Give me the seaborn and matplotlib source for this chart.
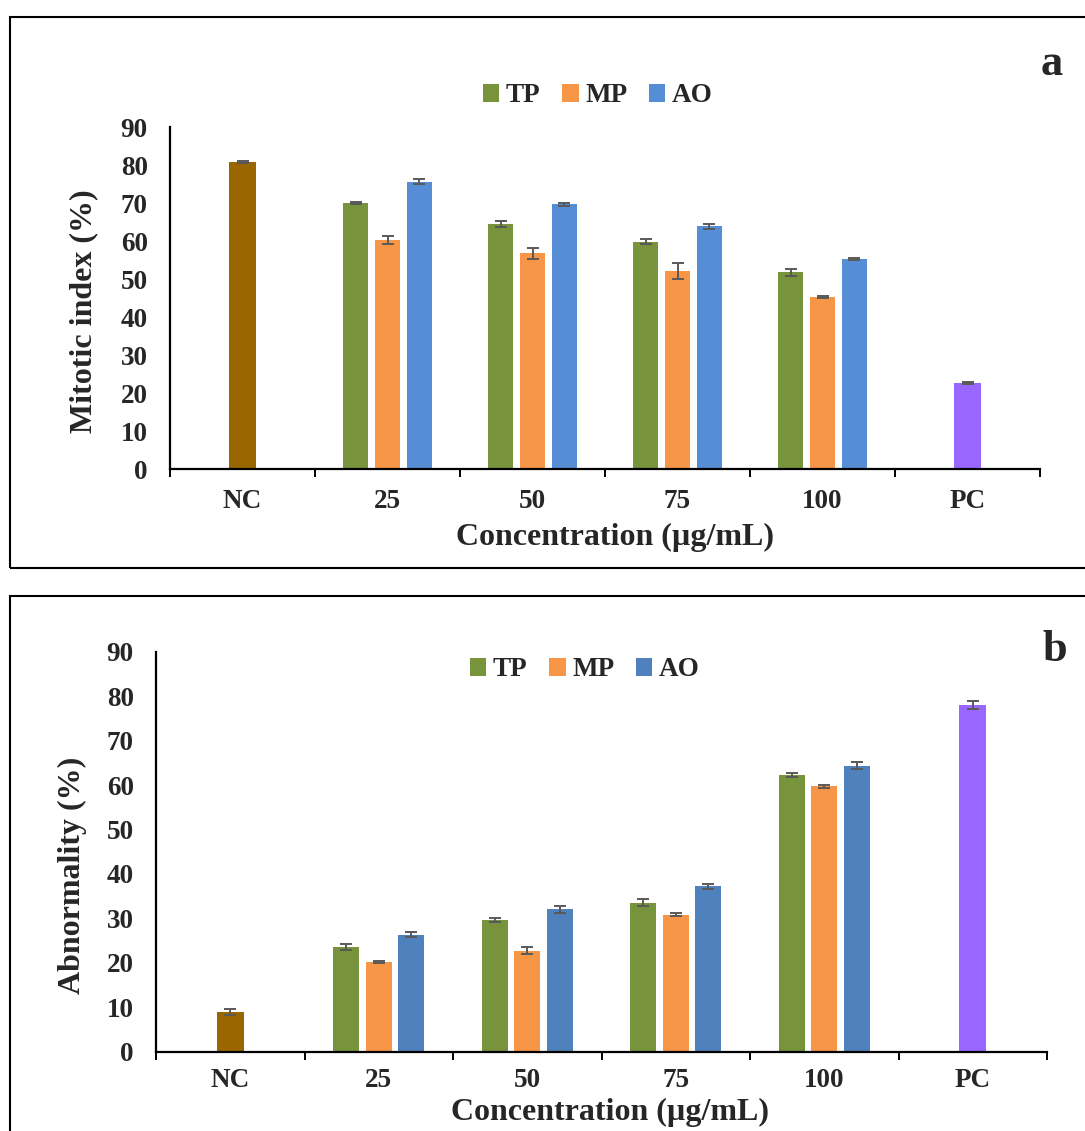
import numpy as np
import pandas as pd
import seaborn as sns
import matplotlib
matplotlib.use("Agg")
import matplotlib.pyplot as plt
from matplotlib.patches import Rectangle
from matplotlib.ticker import FixedLocator, MultipleLocator

# ---------------- data ----------------
categories = ["NC", "25", "50", "75", "100", "PC"]
doses = ["25", "50", "75", "100"]
series = ["TP", "MP", "AO"]

# Panel a: Mitotic index (%)
a_nc, a_nc_err = 80.8, 0.3
a_pc, a_pc_err = 22.7, 0.3
a_tp = [70.1, 64.6, 59.9, 51.9]
a_tp_err = [0.2, 0.8, 0.6, 0.9]
a_mp = [60.3, 56.8, 52.2, 45.3]
a_mp_err = [1.05, 1.4, 2.1, 0.3]
a_ao = [75.7, 69.7, 63.9, 55.3]
a_ao_err = [0.75, 0.3, 0.6, 0.3]

# Panel b: Abnormality (%)
b_nc, b_nc_err = 8.9, 0.64
b_pc, b_pc_err = 78.0, 0.8
b_tp = [23.6, 29.6, 33.5, 62.3]
b_tp_err = [0.64, 0.4, 0.8, 0.5]
b_mp = [20.1, 22.7, 30.8, 59.7]
b_mp_err = [0.2, 0.75, 0.3, 0.3]
b_ao = [26.3, 32.0, 37.2, 64.3]
b_ao_err = [0.6, 0.7, 0.55, 0.8]

# ---------------- style ----------------
sns.set_style("white")
plt.rcParams["font.family"] = ["Liberation Serif", "DejaVu Serif"]
plt.rcParams["font.weight"] = "bold"
plt.rcParams["axes.labelweight"] = "bold"

C_NC = "#996600"
C_TP = "#77933C"
C_MP = "#F79646"
C_PC = "#9966FF"
C_ERR = "#595959"

W, H = 1085, 1131
fig = plt.figure(figsize=(W / 100, H / 100), dpi=100)


def fx(px):
    return px / W


def fy(py):
    return 1 - py / H


def panel(rect, nc, nc_err, pc, pc_err, tp, tp_e, mp, mp_e, ao, ao_e,
          blue, ylabel, xpad, legend_center, letter, letter_pos,
          ylab_xy, xlab_xy):
    ax = fig.add_axes(rect)
    rows = []
    for s, vals, errs in (("TP", tp, tp_e), ("MP", mp, mp_e), ("AO", ao, ao_e)):
        for d, v, e in zip(doses, vals, errs):
            rows.append({"cat": d, "series": s, "val": v, "err": e})
    df_t = pd.DataFrame(rows)
    df_c = pd.DataFrame({"cat": ["NC", "PC"], "val": [nc, pc], "err": [nc_err, pc_err]})

    sns.barplot(data=df_t, x="cat", y="val", hue="series", order=categories,
                hue_order=series, palette=[C_TP, C_MP, blue], width=0.66,
                gap=0.2, errorbar=None, saturation=1, ax=ax, legend=True,
                linewidth=0)
    sns.barplot(data=df_c, x="cat", y="val", hue="cat", order=categories,
                hue_order=["NC", "PC"], palette=[C_NC, C_PC], width=0.18,
                errorbar=None, saturation=1, ax=ax, legend=False, linewidth=0)

    # error bars placed at bar tops, positions taken from drawn patches
    allvals = pd.concat([df_t[["val", "err"]], df_c[["val", "err"]]])
    for p in ax.patches:
        h = p.get_height()
        m = allvals[np.isclose(allvals["val"], h)]
        if len(m):
            ax.errorbar(p.get_x() + p.get_width() / 2, h, yerr=m["err"].iloc[0],
                        fmt="none", ecolor=C_ERR, elinewidth=1.4, capsize=4.3,
                        capthick=1.4, zorder=5)

    ax.set_xlim(-0.5, len(categories) - 0.5)
    ax.set_ylim(0, 90)
    ax.yaxis.set_major_locator(MultipleLocator(10))
    for s in ("top", "right"):
        ax.spines[s].set_visible(False)
    for s in ("left", "bottom"):
        ax.spines[s].set_linewidth(1.6)
        ax.spines[s].set_color("black")
    ax.tick_params(axis="y", which="major", direction="out", length=6,
                   width=1.4, color="black", labelsize=19.5, pad=10)
    ax.tick_params(axis="x", which="major", length=0, labelsize=19.5, pad=xpad)
    ax.xaxis.set_minor_locator(FixedLocator(np.arange(-0.5, len(categories), 1.0)))
    ax.tick_params(axis="x", which="minor", direction="out", length=6,
                   width=1.4, color="black", bottom=True)
    for t in ax.get_xticklabels() + ax.get_yticklabels():
        t.set_fontweight("bold")
    ax.set_ylabel(ylabel, fontsize=23, fontweight="bold")
    ax.set_xlabel("Concentration (µg/mL)", fontsize=23, fontweight="bold")
    ax.yaxis.set_label_coords(*ylab_xy)
    ax.yaxis.label.set_va("center")
    ax.yaxis.label.set_ha("center")
    ax.xaxis.set_label_coords(*xlab_xy)
    ax.xaxis.label.set_va("center")
    ax.xaxis.label.set_ha("center")

    handles, labels = ax.get_legend_handles_labels()
    ax.legend(handles[:3], labels[:3], loc="center", ncol=3, frameon=False,
              bbox_to_anchor=legend_center, bbox_transform=fig.transFigure,
              prop={"size": 19.5, "weight": "bold"}, handlelength=0.6,
              handleheight=0.6, handletextpad=0.25, columnspacing=0.8)
    fig.text(letter_pos[0], letter_pos[1], letter, fontsize=32,
             fontweight="bold", ha="center", va="center")
    return ax


# panel a
ax_a = panel([fx(170), fy(469.3), fx(1040) - fx(170), (469.3 - 127.3) / H],
             a_nc, a_nc_err, a_pc, a_pc_err, a_tp, a_tp_err, a_mp, a_mp_err,
             a_ao, a_ao_err, "#558ED5", "Mitotic index (%)", 14,
             (fx(598), fy(96)), "a", (fx(1052), fy(64)),
             (-0.099, 0.463), (0.511, -0.198))

# panel b
ax_b = panel([fx(156), fy(1051.7), fx(1047) - fx(156), (1051.7 - 651.7) / H],
             b_nc, b_nc_err, b_pc, b_pc_err, b_tp, b_tp_err, b_mp, b_mp_err,
             b_ao, b_ao_err, "#4F81BD", "Abnormality (%)", 12,
             (fx(585), fy(670)), "b", (fx(1055), fy(650)),
             (-0.094, 0.44), (0.51, -0.151))

# panel frames
fig.patches.append(Rectangle((fx(9.5), fy(568.3)), 1.2, (568.3 - 16.5) / H,
                             transform=fig.transFigure, fill=False,
                             edgecolor="black", linewidth=1.5, clip_on=False))
fig.patches.append(Rectangle((fx(10), -0.1), 1.2, 0.1 + (H - 595.7) / H,
                             transform=fig.transFigure, fill=False,
                             edgecolor="black", linewidth=1.5, clip_on=False))

fig.savefig("out.png", dpi=100)
